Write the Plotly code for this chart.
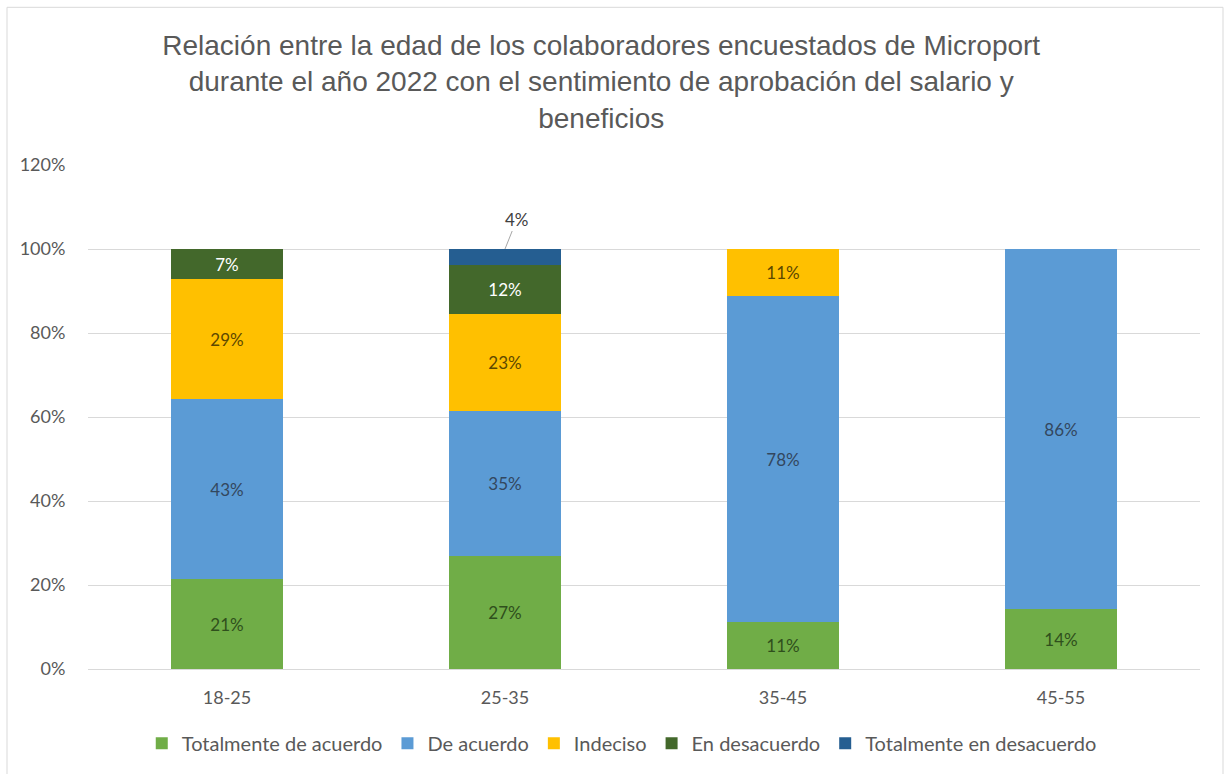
import plotly.graph_objects as go

# Age brackets of surveyed staff
age_groups = ["18-25", "25-35", "35-45", "45-55"]

# Share of respondents per answer within each age bracket
totalmente_de_acuerdo = [3 / 14, 7 / 26, 1 / 9, 1 / 7]
de_acuerdo = [6 / 14, 9 / 26, 7 / 9, 6 / 7]
indeciso = [4 / 14, 6 / 26, 1 / 9, None]
en_desacuerdo = [1 / 14, 3 / 26, None, None]
totalmente_en_desacuerdo = [None, 1 / 26, None, None]

series = [
    ("Totalmente de acuerdo", totalmente_de_acuerdo, "#70AD47", "#2f4f1c"),
    ("De acuerdo", de_acuerdo, "#5B9BD5", "#33475e"),
    ("Indeciso", indeciso, "#FFC000", "#5c4800"),
    ("En desacuerdo", en_desacuerdo, "#43682B", "#ffffff"),
    ("Totalmente en desacuerdo", totalmente_en_desacuerdo, "#255E91", "#ffffff"),
]

label_font = "Lato, Carlito, Calibri, sans-serif"

fig = go.Figure()
for name, values, color, text_color in series:
    outside = name == "Totalmente en desacuerdo"
    fig.add_trace(go.Bar(
        name=name,
        x=age_groups,
        y=values,
        marker=dict(color=color, line=dict(width=0)),
        texttemplate="" if outside else "%{y:.0%}",
        textposition="inside",
        insidetextanchor="middle",
        textfont=dict(color=text_color, size=17, family=label_font),
        constraintext="none",
    ))

# The thin top slice gets its label above the bar with a leader line
annotations = []
base = 0.0
for vals in (totalmente_de_acuerdo, de_acuerdo, indeciso, en_desacuerdo):
    base += vals[1] or 0
top_val = totalmente_en_desacuerdo[1]
annotations.append(dict(
    x=age_groups[1], y=base + top_val, xref="x", yref="y",
    text=f"{top_val:.0%}", showarrow=True, arrowhead=0, arrowwidth=1,
    arrowcolor="#a6a6a6", ax=12, ay=-30, standoff=0,
    font=dict(size=17, color="#404040", family=label_font),
))

fig.update_layout(
    width=1227, height=774,
    paper_bgcolor="white", plot_bgcolor="white",
    barmode="stack", bargap=0.6,
    margin=dict(l=88, r=27, t=165, b=104),
    title=dict(
        text="Relación entre la edad de los colaboradores encuestados de Microport<br>"
             "durante el año 2022 con el sentimiento de aprobación del salario y<br>"
             "beneficios",
        x=0.49, xanchor="center", y=0.929, yanchor="top",
        font=dict(family="Liberation Sans, Arial, sans-serif", size=28, color="#595959"),
    ),
    xaxis=dict(
        showline=True, linecolor="#d9d9d9", linewidth=1,
        ticks="outside", ticklen=12, tickcolor="rgba(0,0,0,0)",
        tickfont=dict(size=18, color="#595959", family=label_font),
    ),
    yaxis=dict(
        range=[0, 1.2], dtick=0.2, tickformat=".0%",
        showgrid=True, gridcolor="#d9d9d9", gridwidth=1, zeroline=False,
        ticks="outside", ticklen=18, tickcolor="rgba(0,0,0,0)",
        tickfont=dict(size=18, color="#595959", family=label_font),
    ),
    legend=dict(
        orientation="h", x=0.48, xanchor="center", y=-0.145, yanchor="middle",
        font=dict(size=20, color="#595959", family=label_font),
        traceorder="normal", itemwidth=30,
    ),
    annotations=annotations,
    shapes=[dict(
        type="rect", xref="paper", yref="paper",
        x0=-81 / 1112, x1=1135 / 1112, y0=-112 / 505, y1=663 / 505,
        line=dict(color="#d9d9d9", width=1), fillcolor="rgba(0,0,0,0)",
    )],
)

fig.write_html("out.html")
